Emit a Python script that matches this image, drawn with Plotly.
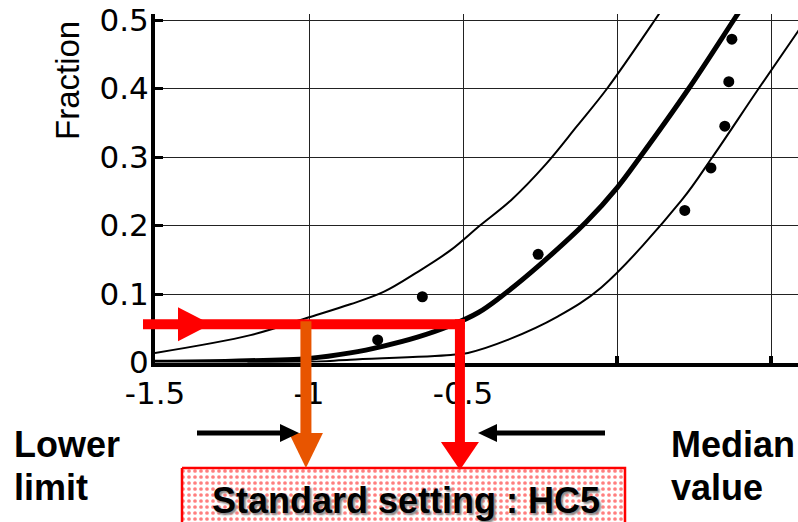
import plotly.graph_objects as go

# ---------------- data ----------------
median_x = [-1.5, -1.25, -1.0, -0.866, -0.758, -0.648, -0.54, -0.45, -0.38, -0.25, -0.1, 0.0, 0.075, 0.233, 0.379, 0.43]
median_y = [0.0005, 0.002, 0.006, 0.014, 0.024, 0.037, 0.054, 0.073, 0.095, 0.143, 0.205, 0.255, 0.300, 0.400, 0.500, 0.535]

upper_x = [-1.5, -1.19, -1.0, -0.866, -0.758, -0.648, -0.54, -0.445, -0.344, -0.23, -0.13, -0.032, 0.123, 0.16]
upper_y = [0.014, 0.040, 0.066, 0.085, 0.103, 0.132, 0.164, 0.200, 0.237, 0.290, 0.345, 0.400, 0.500, 0.525]

lower_x = [-1.2, -1.0, -0.866, -0.54, -0.484, -0.355, -0.193, -0.05, 0.21, 0.31, 0.46, 0.59]
lower_y = [0.0, 0.001, 0.004, 0.011, 0.014, 0.033, 0.067, 0.110, 0.237, 0.300, 0.400, 0.485]

points_x = [-0.777, -0.632, -0.256, 0.22, 0.305, 0.35, 0.363, 0.373]
points_y = [0.033, 0.096, 0.158, 0.222, 0.284, 0.345, 0.410, 0.472]

hc5_fraction = 0.056
hc5_lower_x = -1.01
hc5_median_x = -0.51

x_tickvals = [-1.5, -1.0, -0.5, 0.0, 0.5]
x_ticktext = ["-1.5", "-1", "-0.5", "", ""]
y_tickvals = [0.0, 0.1, 0.2, 0.3, 0.4, 0.5]
y_ticktext = ["0", "0.1", "0.2", "0.3", "0.4", "0.5"]

# ---------------- geometry ----------------
W, H = 798, 522
X0_PX, X_SCALE = 155.0, 308.0        # pixel of x=-1.5, pixels per unit
Y0_PX, Y_SCALE = 362.5, 685.0        # pixel of y=0, pixels per unit
TOP_PX = 14.0
x_range = [-1.5, -1.5 + (W - X0_PX) / X_SCALE]
y_range = [0.0, (Y0_PX - TOP_PX) / Y_SCALE]


def px(x):
    return X0_PX + (x - x_range[0]) * X_SCALE


def py(y):
    return Y0_PX - y * Y_SCALE


RED = "#FF0000"
ORANGE = "#E85500"

fig = go.Figure()

thin = dict(color="black", width=2, shape="spline", smoothing=1.0)
fig.add_trace(go.Scatter(x=upper_x, y=upper_y, mode="lines", line=thin, hoverinfo="skip"))
fig.add_trace(go.Scatter(x=lower_x, y=lower_y, mode="lines", line=thin, hoverinfo="skip"))
fig.add_trace(go.Scatter(x=median_x, y=median_y, mode="lines",
                         line=dict(color="black", width=5, shape="spline", smoothing=1.0),
                         hoverinfo="skip"))
fig.add_trace(go.Scatter(x=points_x, y=points_y, mode="markers",
                         marker=dict(color="black", size=11), hoverinfo="skip"))

# dotted box (overlay pixel axes)
bx0, bx1, by0, by1 = 182, 625, 468, 530
fig.add_trace(go.Scatter(x=[bx0, bx1, bx1, bx0, bx0], y=[by0, by0, by1, by1, by0],
                         mode="lines", fill="toself",
                         line=dict(color=RED, width=2.5),
                         fillcolor="white",
                         fillpattern=dict(shape=".", fgcolor=RED, bgcolor="white",
                                          size=6, solidity=0.3),
                         xaxis="x2", yaxis="y2", hoverinfo="skip"))

shapes = []
hy = py(hc5_fraction)
mxp = px(hc5_median_x)
lxp = px(hc5_lower_x)
# red horizontal bar
shapes.append(dict(type="rect", xref="x2", yref="y2", x0=143, x1=mxp + 5, y0=hy - 5, y1=hy + 5,
                   fillcolor=RED, line=dict(width=0)))
shapes.append(dict(type="path", xref="x2", yref="y2",
                   path=f"M178,{hy-17} L211,{hy} L178,{hy+17} Z",
                   fillcolor=RED, line=dict(width=0)))
# red vertical to box
shapes.append(dict(type="rect", xref="x2", yref="y2", x0=mxp - 5, x1=mxp + 5, y0=hy - 5, y1=443,
                   fillcolor=RED, line=dict(width=0)))
shapes.append(dict(type="path", xref="x2", yref="y2",
                   path=f"M{mxp-19},442 L{mxp+19},442 L{mxp},470 Z",
                   fillcolor=RED, line=dict(width=0)))
# orange vertical
shapes.append(dict(type="rect", xref="x2", yref="y2", x0=lxp - 5.5, x1=lxp + 5.5, y0=hy - 3, y1=434,
                   fillcolor=ORANGE, line=dict(width=0)))
shapes.append(dict(type="path", xref="x2", yref="y2",
                   path=f"M{lxp-17},433 L{lxp+17},433 L{lxp},468 Z",
                   fillcolor=ORANGE, line=dict(width=0)))
# black arrows
shapes.append(dict(type="line", xref="x2", yref="y2", x0=197, x1=283, y0=433, y1=433,
                   line=dict(color="black", width=5)))
shapes.append(dict(type="path", xref="x2", yref="y2",
                   path="M280,424 L299,433 L280,442 Z", fillcolor="black", line=dict(width=0)))
shapes.append(dict(type="line", xref="x2", yref="y2", x0=494, x1=605, y0=433, y1=433,
                   line=dict(color="black", width=5)))
shapes.append(dict(type="path", xref="x2", yref="y2",
                   path="M497,424 L478,433 L497,442 Z", fillcolor="black", line=dict(width=0)))

bold = dict(family="Liberation Sans, Arial, sans-serif", size=36, color="black", weight="bold")
annotations = [
    dict(text="Fraction", xref="x2", yref="y2", x=67, y=81, textangle=-90, showarrow=False,
         font=dict(family="Liberation Sans, Arial, sans-serif", size=33, color="black")),
    dict(text="Lower", xref="x2", yref="y2", x=12, y=444, xanchor="left", yanchor="middle",
         showarrow=False, font=bold),
    dict(text="limit", xref="x2", yref="y2", x=12, y=487, xanchor="left", yanchor="middle",
         showarrow=False, font=bold),
    dict(text="Median", xref="x2", yref="y2", x=669, y=444, xanchor="left", yanchor="middle",
         showarrow=False, font=bold),
    dict(text="value", xref="x2", yref="y2", x=669, y=487, xanchor="left", yanchor="middle",
         showarrow=False, font=bold),
    dict(text="Standard setting : HC5", xref="x2", yref="y2", x=406, y=500,
         xanchor="center", yanchor="middle", showarrow=False,
         font=dict(family="Liberation Sans, Arial, sans-serif", size=36, color="black",
                   weight="bold", shadow="2px 2px 2px #888888")),
]

tickfont = dict(family="DejaVu Sans, sans-serif", size=31, color="black")
fig.update_layout(
    width=W, height=H,
    margin=dict(l=0, r=0, t=0, b=0, autoexpand=False),
    paper_bgcolor="white",
    plot_bgcolor="rgba(0,0,0,0)",
    showlegend=False,
    xaxis=dict(domain=[X0_PX / W, 1.0], range=x_range, tickvals=x_tickvals, ticktext=x_ticktext,
               showgrid=True, gridcolor="#222222", gridwidth=1.3, zeroline=False,
               showline=True, linecolor="black", linewidth=4,
               ticks="inside", ticklen=7, tickwidth=4, tickcolor="black",
               tickfont=tickfont, fixedrange=True, anchor="y", automargin=False,
               ticklabelstandoff=0),
    yaxis=dict(domain=[(H - Y0_PX) / H, (H - TOP_PX) / H], range=y_range,
               tickvals=y_tickvals, ticktext=y_ticktext,
               showgrid=True, gridcolor="#222222", gridwidth=1.3, zeroline=False,
               showline=True, linecolor="black", linewidth=4,
               ticks="inside", ticklen=8, tickwidth=3, tickcolor="black",
               tickfont=tickfont, fixedrange=True, anchor="x", automargin=False,
               ticklabelstandoff=-4),
    xaxis2=dict(domain=[0, 1], range=[0, W], visible=False, fixedrange=True, anchor="y2",
                automargin=False),
    yaxis2=dict(domain=[0, 1], range=[H, 0], visible=False, fixedrange=True, anchor="x2",
                automargin=False),
    shapes=shapes,
    annotations=annotations,
)

fig.write_html("out.html", config={"displayModeBar": False},
               post_script="document.body.style.margin='0';document.body.style.overflow='hidden';")
